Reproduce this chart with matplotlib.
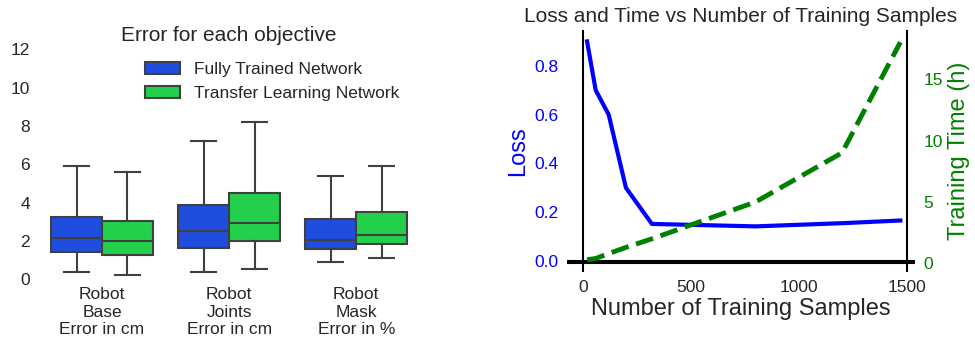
import matplotlib
matplotlib.use('Agg')
import matplotlib.pyplot as plt
from matplotlib.patches import Patch

plt.rcParams['font.family'] = ['Liberation Sans', 'DejaVu Sans']

# box plot stats (whislo, q1, med, q3, whishi)
objectives = ['Robot\nBase\nError in cm', 'Robot\nJoints\nError in cm', 'Robot\nMask\nError in %']
fully_trained = [
    [0.35, 1.41, 2.17, 3.24, 5.92],
    [0.36, 1.65, 2.53, 3.89, 7.19],
    [0.92, 1.59, 2.05, 3.14, 5.38],
]
transfer = [
    [0.21, 1.25, 2.01, 3.04, 5.57],
    [0.55, 1.98, 2.95, 4.49, 8.19],
    [1.09, 1.82, 2.29, 3.50, 5.92],
]

# loss / time vs training samples
samples = [20, 60, 120, 200, 320, 800, 1200, 1470]
loss = [0.90, 0.70, 0.60, 0.30, 0.152, 0.142, 0.155, 0.166]
train_time = [0.3, 0.4, 0.8, 1.3, 2.0, 5.0, 9.0, 18.0]

blue = '#1f4ddd'
green = '#22d04b'
edge = '#404040'
txt = '#262626'


def to_stats(vals):
    lo, q1, med, q3, hi = vals
    return dict(whislo=lo, q1=q1, med=med, q3=q3, whishi=hi, fliers=[])


fig = plt.figure(figsize=(9.75, 3.4), dpi=100)

# ---- left: box plots
ax = fig.add_axes([0.0395, 0.179, 0.391, 0.676])
pos = list(range(len(objectives)))
for vals, off, col in [(fully_trained, -0.2, blue), (transfer, 0.2, green)]:
    ax.bxp([to_stats(v) for v in vals], positions=[p + off for p in pos], widths=0.4,
           patch_artist=True, showfliers=False,
           boxprops=dict(facecolor=col, edgecolor=edge, linewidth=1.5),
           medianprops=dict(color=edge, linewidth=1.5),
           whiskerprops=dict(color=edge, linewidth=1.5),
           capprops=dict(color=edge, linewidth=1.5))
ax.set_xlim(-0.5, 2.5)
ax.set_ylim(0, 12)
ax.set_xticks(pos)
ax.set_xticklabels(objectives, fontsize=12.5)
ax.set_yticks(range(0, 13, 2))
ax.tick_params(axis='y', labelsize=12.5, length=0, pad=6, colors=txt)
ax.tick_params(axis='x', length=0, pad=6, colors=txt)
for s in ax.spines.values():
    s.set_visible(False)
ax.set_title('Error for each objective', fontsize=15, color=txt)

handles = [Patch(facecolor=blue, edgecolor=edge, linewidth=1.5, label='Fully Trained Network'),
           Patch(facecolor=green, edgecolor=edge, linewidth=1.5, label='Transfer Learning Network')]
leg = ax.legend(handles=handles, loc='upper left', bbox_to_anchor=(0.262, 0.975),
                borderaxespad=0, frameon=False, fontsize=12.5)
for t in leg.get_texts():
    t.set_color(txt)

# ---- right: loss and time
ax1 = fig.add_axes([0.5815, 0.2, 0.357, 0.712])
ax1.plot(samples, loss, color='blue', linewidth=3)
ax1.axhline(0, color='black', linewidth=1.5)
ax1.axvline(0, color='black', linewidth=1.5)
ax1.axvline(1500, color='black', linewidth=1.5)
ax1.set_xlim(-73, 1538)
ax1.set_ylim(-0.045, 0.947)
ax1.set_xticks([0, 500, 1000, 1500])
ax1.set_yticks([0.0, 0.2, 0.4, 0.6, 0.8])
ax1.tick_params(axis='x', labelsize=12.5, length=0, pad=6, colors=txt)
ax1.tick_params(axis='y', labelsize=12.5, length=0, pad=6, labelcolor='blue')
ax1.set_xlabel('Number of Training Samples', fontsize=17, color=txt, labelpad=2)
ax1.set_ylabel('Loss', fontsize=17, color='blue')
ax1.set_title('Loss and Time vs Number of Training Samples', fontsize=15, color=txt)

ax2 = ax1.twinx()
ax2.plot(samples, train_time, color='green', linewidth=3.5, linestyle='--')
ax2.axhline(0, color='black', linewidth=1.5)
ax2.set_ylim(-0.7, 19.0)
ax2.set_yticks([0, 5, 10, 15])
ax2.tick_params(axis='y', labelsize=12.5, length=0, pad=6, labelcolor='green')
ax2.set_ylabel('Training Time (h)', fontsize=17, color='green')

for a in (ax1, ax2):
    for s in a.spines.values():
        s.set_visible(False)

fig.savefig('out.png', dpi=100)
